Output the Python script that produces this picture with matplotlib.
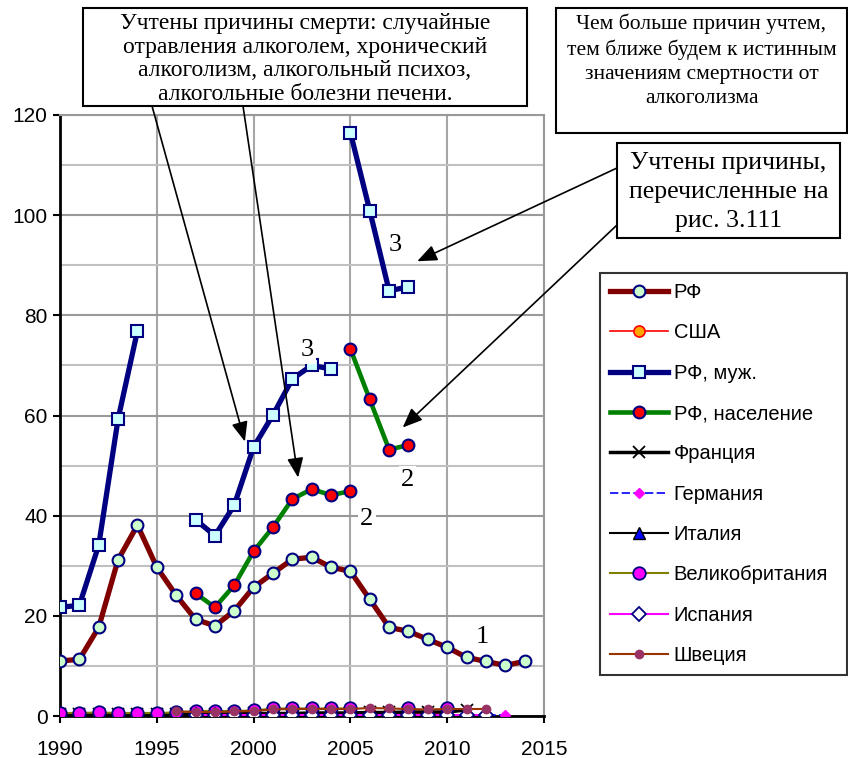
import numpy as np
import matplotlib
matplotlib.use('Agg')
import matplotlib.pyplot as plt
from matplotlib.patches import Rectangle
from matplotlib.ticker import MultipleLocator

nan = np.nan

# --- Данные (оценка по рисунку) ---
years = list(range(1990, 2015))
rf = [11.0, 11.3, 17.7, 31.2, 38.1, 29.7, 24.1, 19.3, 18.0, 21.0, 25.7, 28.5, 31.3,
      31.7, 29.7, 28.9, 23.3, 17.7, 16.9, 15.3, 13.7, 11.7, 10.9, 10.1, 10.9]

male_years_a = list(range(1990, 2005))
rf_male_a = [21.7, 22.1, 34.1, 59.3, 76.9, nan, nan, 39.2, 36.0, 42.1, 53.7, 60.1,
             67.3, 70.0, 69.3]
male_years_b = [2005, 2006, 2007, 2008]
rf_male_b = [116.5, 100.9, 84.9, 85.7]

pop_years_a = list(range(1997, 2006))
rf_pop_a = [24.5, 21.7, 26.1, 32.9, 37.7, 43.3, 45.3, 44.1, 44.9]
pop_years_b = [2005, 2006, 2007, 2008]
rf_pop_b = [73.3, 63.2, 53.2, 54.1]

small_years = list(range(1990, 2014))
usa = [0.5, 0.5, 0.5, 0.5, 0.5, 0.5, 0.5, 0.5, 0.5, 0.5, 0.5, 0.6, 0.6, 0.6, 0.6,
       0.6, 0.6, 0.6, 0.6, 0.6, 0.6, nan, nan, nan]
france = [0.3, 0.3, 0.3, 0.3, 0.3, 0.3, 0.3, 0.4, 0.4, 0.4, 0.5, 0.5, 0.5, 0.6, 0.6,
          0.6, 0.7, 0.7, 0.8, 0.8, 0.8, 1.2, nan, nan]
germany = [nan, nan, nan, nan, nan, nan, nan, nan, nan, nan, 0.2, 0.2, 0.2, 0.2, 0.2,
           0.2, 0.2, 0.2, 0.2, 0.2, 0.2, 0.2, 0.2, 0.2]
italy = [0.1, 0.1, 0.1, 0.1, 0.1, 0.1, 0.1, 0.1, 0.1, 0.1, 0.1, 0.1, 0.1, 0.1, 0.1,
         0.1, nan, nan, nan, nan, nan, nan, nan, nan]
uk = [0.6, 0.6, 0.7, 0.6, 0.6, 0.6, 0.7, 1.0, 1.0, 1.0, 1.1, 1.5, 1.5, 1.5, 1.5,
      1.5, nan, nan, 1.5, nan, 1.5, nan, nan, nan]
spain = [nan, nan, nan, nan, nan, nan, nan, 0.1, 0.1, 0.1, 0.1, 0.1, 0.1, 0.1, 0.1,
         0.1, 0.1, 0.1, 0.1, 0.1, 0.1, 0.1, 0.1, nan]
sweden = [nan, nan, nan, nan, nan, nan, 0.9, 0.8, 0.8, 0.9, 1.0, 1.3, 1.4, 1.4, 1.4,
          1.4, 1.6, 1.5, 1.4, 1.3, 1.4, 1.4, 1.4, nan]

NAVY = '#000080'
SERIF = 'Liberation Serif'
SANS = 'Liberation Sans'

fig = plt.figure(figsize=(8.48, 7.58), dpi=100)
ax = fig.add_axes([60 / 848, 1 - 716 / 758, 484 / 848, 601 / 758])

# РФ
ax.plot(years, rf, color='#800000', lw=3.8, marker='o', ms=8.5, mfc='#ccffcc',
        mec=NAVY, mew=1.5, solid_joinstyle='round', label='РФ', zorder=3)
# США
ax.plot(small_years, usa, color='red', lw=1.2, marker='o', ms=8, mfc='#ffa500',
        mec='red', mew=1.2, label='США', zorder=3)
# РФ, муж.
ax.plot(male_years_a, rf_male_a, color=NAVY, lw=3.8, marker='s', ms=8, mfc='#ccffff',
        mec=NAVY, mew=1.5, solid_joinstyle='round', label='РФ, муж.', zorder=3)
ax.plot(male_years_b, rf_male_b, color=NAVY, lw=3.8, marker='s', ms=8, mfc='#ccffff',
        mec=NAVY, mew=1.5, solid_joinstyle='round', zorder=3)
# РФ, население
ax.plot(pop_years_a, rf_pop_a, color='#008000', lw=3.3, marker='o', ms=8.5, mfc='red',
        mec=NAVY, mew=1.5, solid_joinstyle='round', label='РФ, население', zorder=3)
ax.plot(pop_years_b, rf_pop_b, color='#008000', lw=3.3, marker='o', ms=8.5, mfc='red',
        mec=NAVY, mew=1.5, solid_joinstyle='round', zorder=3)
# Остальные страны
ax.plot(small_years, france, color='black', lw=2.5, marker='x', ms=8, mec='black',
        mew=1.3, label='Франция', zorder=3)
ax.plot(small_years, germany, color='blue', lw=1.2, ls=(0, (5, 2)), marker='D', ms=5,
        mfc='magenta', mec='magenta', label='Германия', zorder=3)
ax.plot(small_years, italy, color='black', lw=1.5, marker='^', ms=9, mfc='blue',
        mec='black', mew=1, label='Италия', zorder=3)
ax.plot(small_years, uk, color='#808000', lw=1.5, marker='o', ms=9, mfc='magenta',
        mec=NAVY, mew=1.3, label='Великобритания', zorder=3)
ax.plot(small_years, spain, color='magenta', lw=1.5, marker='D', ms=7.5, mfc='white',
        mec=NAVY, mew=1.3, label='Испания', zorder=3)
ax.plot(small_years, sweden, color='#993300', lw=1.5, marker='o', ms=6, mfc='#993366',
        mec='#993366', label='Швеция', zorder=3)

ax.set_xlim(1990, 2015)
ax.set_ylim(0, 120)
ax.xaxis.set_major_locator(MultipleLocator(5))
ax.yaxis.set_major_locator(MultipleLocator(20))
ax.yaxis.set_minor_locator(MultipleLocator(10))
ax.grid(True, which='major', axis='y', color='#999999', lw=1.5)
ax.grid(True, which='minor', axis='y', color='#c0c0c0', lw=1.5)
ax.grid(True, which='major', axis='x', color='#a6a6a6', lw=1.5)
ax.set_axisbelow(True)
for s in ['top', 'right']:
    ax.spines[s].set_color('#999999')
    ax.spines[s].set_linewidth(1.5)
for s in ['left', 'bottom']:
    ax.spines[s].set_color('black')
    ax.spines[s].set_linewidth(2)
ax.tick_params(axis='y', which='major', length=5, width=1.5, direction='out',
               labelsize=15, pad=4)
ax.tick_params(axis='y', which='minor', length=0)
ax.tick_params(axis='x', length=5, width=1.5, direction='out', labelsize=15, pad=12.5)
for lab in ax.get_xticklabels() + ax.get_yticklabels():
    lab.set_fontfamily(SANS)

# Номера кривых
num_style = dict(fontsize=19, family=SERIF, ha='center', va='center', zorder=4,
                 bbox=dict(facecolor='white', edgecolor='none', pad=1.5))
ax.text(2011.8, 15.8, '1', **num_style)
ax.text(2005.85, 39.4, '2', **num_style)
ax.text(2007.95, 47.2, '2', **num_style)
ax.text(2007.3, 94.0, '3', **num_style)
ax.text(2002.75, 73.0, '3', **num_style)

# Легенда
leg = fig.legend(loc='upper left',
                 bbox_to_anchor=(600 / 848, 1 - 273 / 758 - 0.01, 247 / 848, 0.01),
                 mode='expand', frameon=True, fancybox=False,
                 prop={'family': SANS, 'size': 14.5}, labelspacing=1.06,
                 handlelength=2.9, handletextpad=0.25, borderpad=0.5,
                 borderaxespad=0)
leg.get_frame().set_edgecolor('black')
leg.get_frame().set_linewidth(1.5)

# Рамки с пояснениями
H = 758
def box(x0, y0, x1, y1):
    fig.add_artist(Rectangle((x0 / 848, 1 - y1 / H), (x1 - x0) / 848, (y1 - y0) / H,
                             transform=fig.transFigure, facecolor='white',
                             edgecolor='black', lw=1.5, zorder=5))

box(83, 8, 527, 106)
fig.text((83 + 527) / 2 / 848, 1 - 59 / H,
         'Учтены причины смерти: случайные\nотравления алкоголем, хронический\n'
         'алкоголизм, алкогольный психоз,\nалкогольные болезни печени.',
         ha='center', va='center', fontsize=17, family=SERIF, linespacing=1.18, zorder=6)

box(556, 8, 847, 133)
fig.text((556 + 847) / 2 / 848, 1 - 61 / H,
         'Чем больше причин учтем,\nтем ближе будем к истинным\n'
         'значениям смертности от\nалкоголизма',
         ha='center', va='center', fontsize=15.5, family=SERIF, linespacing=1.36, zorder=6)

box(617, 143, 840, 238)
fig.text((617 + 840) / 2 / 848, 1 - 192 / H,
         'Учтены причины,\nперечисленные на\nрис. 3.111',
         ha='center', va='center', fontsize=18.5, family=SERIF, linespacing=1.42, zorder=6)

# Стрелки
arrow = dict(arrowstyle='-|>,head_length=0.8,head_width=0.33', color='black', lw=1.2,
             shrinkA=0, shrinkB=0, mutation_scale=15)
ax.annotate('', xy=(1999.55, 54.8), xytext=(152, H - 106), textcoords='figure pixels',
            arrowprops=arrow, annotation_clip=False, zorder=6)
ax.annotate('', xy=(2002.3, 47.6), xytext=(243, H - 106), textcoords='figure pixels',
            arrowprops=arrow, annotation_clip=False, zorder=6)
ax.annotate('', xy=(2008.45, 90.8), xytext=(617, H - 168), textcoords='figure pixels',
            arrowprops=arrow, annotation_clip=False, zorder=6)
ax.annotate('', xy=(2007.7, 57.6), xytext=(617, H - 225), textcoords='figure pixels',
            arrowprops=arrow, annotation_clip=False, zorder=6)

fig.savefig('out.png', dpi=100)
